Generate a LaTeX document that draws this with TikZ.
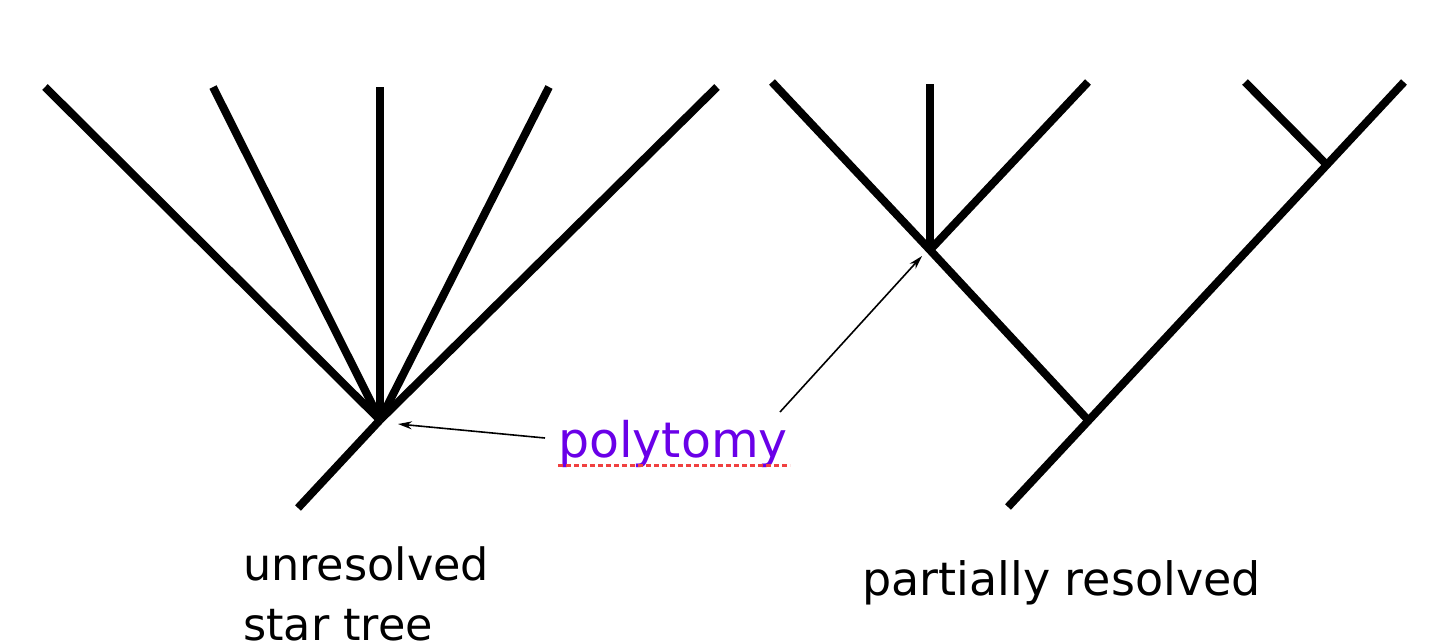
\documentclass[tikz,border=0pt]{standalone}
\usepackage{fontspec}
\setmainfont{DejaVu Sans}
\usetikzlibrary{arrows.meta}
\definecolor{polyviolet}{HTML}{6A00E8}
\definecolor{squiggle}{HTML}{F04040}
\begin{document}
\begin{tikzpicture}[x=1pt,y=-1pt,
  branch/.style={line width=8pt, line cap=butt},
  pointer/.style={line width=1.6pt, -{Stealth[length=14pt,width=8pt]}},
  caption/.style={inner sep=0pt, anchor=base west},
]
\useasboundingbox (0,0) rectangle (1440,641);
% left star tree
\coordinate (r) at (380,420);
\coordinate (rb) at (298,508);
\coordinate (l1) at (45,87);
\coordinate (l2) at (213,87);
\coordinate (l3) at (380,87);
\coordinate (l4) at (549,87);
\coordinate (l5) at (717,87);
\draw[branch] (rb) -- (r);
\foreach \l in {l1,l2,l3,l4,l5} \draw[branch] (r) -- (\l);
% right tree
\coordinate (a) at (930,250);
\coordinate (b) at (1088,420);
\coordinate (c) at (1325,163);
\coordinate (rb2) at (1008,507);
\coordinate (m1) at (772,82);
\coordinate (m2) at (930,84);
\coordinate (m3) at (1088,82);
\coordinate (m4) at (1245,82);
\coordinate (m5) at (1404,82);
\draw[branch] (m1) -- (a) -- (b);
\draw[branch] (a) -- (m2);
\draw[branch] (a) -- (m3);
\draw[branch] (rb2) -- (m5);
\draw[branch] (c) -- (m4);
% label
\node[font=\fontsize{49}{58}\selectfont, text=polyviolet, inner sep=0pt, anchor=base west] (poly) at (558,457) {polytomy};
\coordinate (p1) at (545,438);
\coordinate (p2) at (780,412);
\coordinate (t1) at (398,424);
\coordinate (t2) at (922,256);
\draw[pointer] (p1) -- (t1);
\draw[pointer] (p2) -- (t2);
\coordinate (u1) at (558,465);
\coordinate (u2) at (790,465);
\draw[squiggle, line width=3pt, dash pattern=on 5pt off 3pt] (u1) -- (u2);
% captions
\node[caption, font=\fontsize{44.5}{52}\selectfont] (unres) at (243,580) {unresolved};
\node[caption, font=\fontsize{44.5}{52}\selectfont] (star) at (243,640) {star tree};
\node[caption, font=\fontsize{46}{54}\selectfont] (part) at (862,595) {partially resolved};
\end{tikzpicture}
\end{document}
